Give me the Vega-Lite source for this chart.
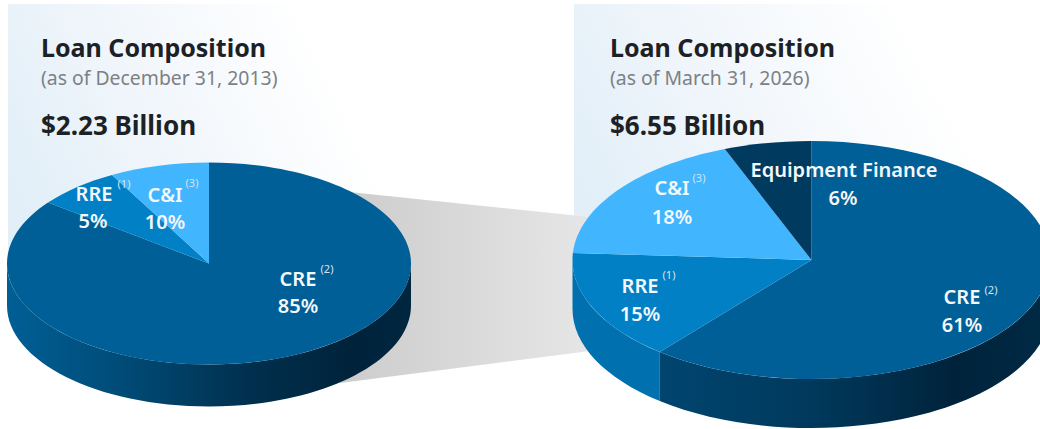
{
"$schema":"https://vega.github.io/schema/vega-lite/v6.json",
"width":1040,"height":429,"padding":0,"autosize":{"type":"none"},"background":"white",
"config":{"view":{"stroke":null}},
"datasets":{
"panels":[{"panel":"2013","x":8,"x2":390,"y":4,"y2":250},{"panel":"2026","x":574,"x2":1000,"y":4,"y2":250}],
"link":[{"x":0,"y":0}],
"pie2013":[{"x":209,"y":263.5}],
"pie2026":[{"x":811.5,"y":260}],
"slices":[
{"id":"2013 CRE","segment":"CRE","share":85,"x":209,"y":263.5},
{"id":"2013 RRE","segment":"RRE","share":5,"x":209,"y":263.5},
{"id":"2013 C&I","segment":"C&I","share":10,"x":209,"y":263.5},
{"id":"2026 CRE","segment":"CRE","share":61,"x":811.5,"y":260},
{"id":"2026 RRE","segment":"RRE","share":15,"x":811.5,"y":260},
{"id":"2026 C&I","segment":"C&I","share":18,"x":811.5,"y":260},
{"id":"2026 EF","segment":"Equipment Finance","share":6,"x":811.5,"y":260}],
"heads":[{"t":"Loan Composition","x":41,"y":57},{"t":"Loan Composition","x":610,"y":57}],
"totals":[{"t":"$2.23 Billion","x":41,"y":135},{"t":"$6.55 Billion","x":610,"y":135}],
"subs":[{"t":"(as of December 31, 2013)","x":41,"y":85},{"t":"(as of March 31, 2026)","x":610,"y":85}],
"labels":[
{"t":"RRE","x":94,"y":201},{"t":"5%","x":93,"y":228},{"t":"C&I","x":165,"y":202},{"t":"10%","x":165,"y":229},{"t":"CRE","x":298,"y":286},{"t":"85%","x":298,"y":313},
{"t":"C&I","x":672,"y":195},{"t":"18%","x":672,"y":224},{"t":"Equipment Finance","x":844,"y":177},{"t":"6%","x":843,"y":205},{"t":"RRE","x":640,"y":293},{"t":"15%","x":640,"y":321},{"t":"CRE","x":962,"y":304},{"t":"61%","x":962,"y":332}],
"notes":[
{"t":"(1)","x":124,"y":188},{"t":"(3)","x":192,"y":187},{"t":"(2)","x":327,"y":273},{"t":"(3)","x":699,"y":182},{"t":"(1)","x":669,"y":279},{"t":"(2)","x":991,"y":294}]
},
"encoding":{
"x":{"field":"x","type":"quantitative","scale":{"domain":[0,1040],"nice":false,"zero":false},"axis":null},
"y":{"field":"y","type":"quantitative","scale":{"domain":[429,0],"nice":false,"zero":false},"axis":null}
},
"layer":[
{"data":{"name":"panels"},"mark":{"type":"rect","fill":{"gradient":"linear","x1":0,"y1":0.65,"x2":1,"y2":0.35,"stops":[{"offset":0,"color":"#e2eff8"},{"offset":0.4,"color":"#f1f6fb"},{"offset":0.88,"color":"#ffffff"},{"offset":1,"color":"#ffffff"}]}},
"encoding":{"x2":{"field":"x2"},"y2":{"field":"y2"}}},
{"data":{"name":"link"},"mark":{"type":"point","filled":true,"opacity":1,"size":4,"strokeWidth":0,"shape":"M340,191 L590,217 L590,351 L340,383 Z","fill":{"gradient":"linear","x1":0,"y1":0,"x2":1,"y2":0,"stops":[{"offset":0,"color":"#cccccc"},{"offset":1,"color":"#e6e6e6"}]}}},
{"data":{"name":"pie2013"},"mark":{"type":"point","filled":true,"opacity":1,"size":4,"strokeWidth":0,"shape":"M-202,0 A202,101 0 0 0 202,0 L202,42 A202,101 0 0 1 -202,42 Z","fill":{"gradient":"linear","x1":0,"y1":0,"x2":1,"y2":0,"stops":[{"offset":0,"color":"#005f96"},{"offset":0.3,"color":"#004a75"},{"offset":0.6,"color":"#00304e"},{"offset":0.85,"color":"#00233b"},{"offset":1,"color":"#002640"}]}}},
{"data":{"name":"pie2026"},"mark":{"type":"point","filled":true,"opacity":1,"size":4,"strokeWidth":0,"shape":"M-239,0 A239,119 0 0 0 -151.7,92 L-151.7,141 A239,119 0 0 1 -239,49 Z","fill":"#0070ae"}},
{"data":{"name":"pie2026"},"mark":{"type":"point","filled":true,"opacity":1,"size":4,"strokeWidth":0,"shape":"M-151.7,92 A239,119 0 0 0 239,0 L239,49 A239,119 0 0 1 -151.7,141 Z","fill":{"gradient":"linear","x1":0,"y1":0,"x2":1,"y2":0,"stops":[{"offset":0,"color":"#00456f"},{"offset":0.4,"color":"#00395c"},{"offset":0.75,"color":"#00233b"},{"offset":1,"color":"#002a46"}]}}},
{"data":{"name":"slices"},"mark":{"type":"point","filled":true,"opacity":1,"size":4,"strokeWidth":0},
"encoding":{
"shape":{"field":"id","type":"nominal","legend":null,"scale":{"domain":["2013 CRE","2013 RRE","2013 C&I","2026 CRE","2026 RRE","2026 C&I","2026 EF"],"range":[
"M0,0 L0,-101 A202,101 0 1 1 -161,-61 Z",
"M0,0 L-161,-61 A202,101 0 0 1 -97,-88.6 Z",
"M0,0 L-97,-88.6 A202,101 0 0 1 0,-101 Z",
"M0,0 L0,-119 A239,119 0 1 1 -151.7,92 Z",
"M0,0 L-151.7,92 A239,119 0 0 1 -238.6,-7 Z",
"M0,0 L-238.6,-7 A239,119 0 0 1 -86.7,-110.9 Z",
"M0,0 L-86.7,-110.9 A239,119 0 0 1 0,-119 Z"]}},
"color":{"field":"segment","type":"nominal","legend":null,"scale":{"domain":["CRE","RRE","C&I","Equipment Finance"],"range":["#005f96","#0280c6","#41b5fe","#003a5f"]}}}},
{"data":{"name":"heads"},"mark":{"type":"text","align":"left","baseline":"alphabetic","font":"Noto Sans","fontWeight":"bold","fontSize":25,"fill":"#1c2126"},"encoding":{"text":{"field":"t"}}},
{"data":{"name":"totals"},"mark":{"type":"text","align":"left","baseline":"alphabetic","font":"Noto Sans","fontWeight":"bold","fontSize":26,"fill":"#1c2126"},"encoding":{"text":{"field":"t"}}},
{"data":{"name":"subs"},"mark":{"type":"text","align":"left","baseline":"alphabetic","font":"Noto Sans","fontSize":19.4,"fill":"#7c8186"},"encoding":{"text":{"field":"t"}}},
{"data":{"name":"labels"},"mark":{"type":"text","align":"center","baseline":"alphabetic","font":"Noto Sans","fontWeight":600,"fontSize":20,"fill":"#f4f8fb"},"encoding":{"text":{"field":"t"}}},
{"data":{"name":"notes"},"mark":{"type":"text","align":"center","baseline":"alphabetic","font":"Noto Sans","fontSize":11,"fill":"#d5e4ee"},"encoding":{"text":{"field":"t"}}}
]
}
